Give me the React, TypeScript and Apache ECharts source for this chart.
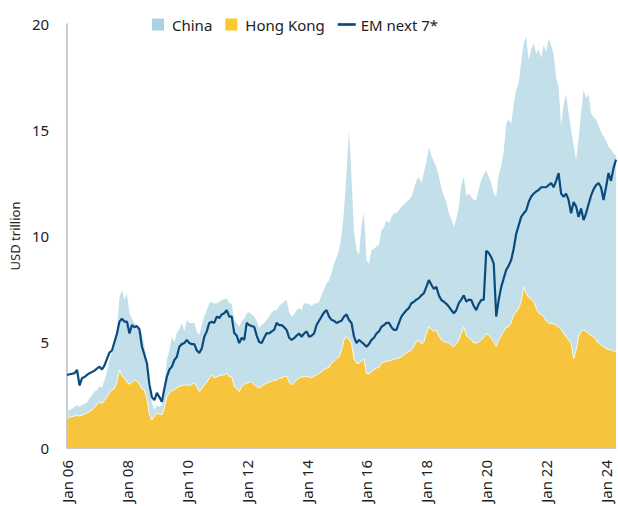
import React, { useEffect, useRef } from "react";
import * as echarts from "echarts";

const monthNames = ["Jan", "Feb", "Mar", "Apr", "May", "Jun", "Jul", "Aug", "Sep", "Oct", "Nov", "Dec"];
const yearLabels = ["06", "07", "08", "09", "10", "11", "12", "13", "14", "15", "16", "17", "18", "19", "20", "21", "22", "23", "24"];
const lastMonthCount = 5; // Jan-May 2024

const categories: string[] = [];
yearLabels.forEach((y, yi) => {
  const n = yi === yearLabels.length - 1 ? lastMonthCount : 12;
  for (let m = 0; m < n; m++) categories.push(`${monthNames[m]} ${y}`);
});

// Hong Kong market cap, USD trillion (monthly)
const hongKong = [
  1.40, 1.45, 1.48, 1.50, 1.55, 1.50, 1.55, 1.60, 1.65, 1.72, 1.80, 1.90,
  2.05, 2.18, 2.10, 2.25, 2.40, 2.60, 2.74, 2.80, 3.10, 3.68, 3.40, 3.30,
  3.10, 3.00, 3.10, 3.20, 3.15, 3.00, 2.80, 2.74, 2.30, 1.60, 1.32, 1.50,
  1.64, 1.60, 1.56, 1.90, 2.42, 2.60, 2.70, 2.75, 2.83, 2.90, 2.95, 2.97,
  2.97, 2.95, 3.00, 3.06, 2.90, 2.66, 2.80, 2.97, 3.10, 3.30, 3.44, 3.30,
  3.36, 3.40, 3.44, 3.44, 3.53, 3.36, 3.36, 2.90, 2.80, 2.66, 2.90, 3.00,
  3.06, 3.10, 3.13, 2.97, 2.90, 2.83, 2.90, 3.00, 3.06, 3.10, 3.15, 3.20,
  3.20, 3.30, 3.30, 3.36, 3.40, 3.10, 2.97, 3.10, 3.20, 3.30, 3.36, 3.36,
  3.36, 3.36, 3.30, 3.40, 3.45, 3.52, 3.60, 3.70, 3.77, 3.80, 4.00, 4.10,
  4.20, 4.30, 4.60, 5.10, 5.25, 5.10, 4.95, 4.20, 4.00, 4.00, 4.10, 4.20,
  3.52, 3.50, 3.60, 3.70, 3.77, 3.80, 4.00, 4.05, 4.10, 4.10, 4.15, 4.20,
  4.20, 4.25, 4.30, 4.40, 4.50, 4.55, 4.62, 4.80, 5.00, 5.10, 4.90, 5.00,
  5.40, 5.72, 5.60, 5.50, 5.57, 5.30, 5.10, 5.00, 5.00, 4.95, 4.85, 4.78,
  4.90, 5.10, 5.40, 5.72, 5.30, 5.20, 5.10, 4.95, 4.95, 5.00, 5.10, 5.20,
  5.40, 5.30, 5.20, 5.00, 4.80, 5.10, 5.30, 5.50, 5.70, 5.72, 5.90, 6.30,
  6.40, 6.60, 6.90, 7.60, 7.30, 7.10, 7.00, 6.90, 6.60, 6.36, 6.30, 6.20,
  6.00, 5.90, 5.88, 5.85, 5.80, 5.70, 5.60, 5.40, 5.25, 5.10, 4.94, 4.20,
  4.60, 5.25, 5.50, 5.57, 5.50, 5.40, 5.30, 5.25, 5.10, 4.94, 4.85, 4.78,
  4.70, 4.65, 4.62, 4.58, 4.55,
];

// China market cap, USD trillion (monthly, stacked on top of Hong Kong)
const china = [
  0.31, 0.35, 0.37, 0.45, 0.48, 0.45, 0.48, 0.48, 0.50, 0.63, 0.70, 0.75,
  0.69, 0.72, 0.75, 0.95, 1.20, 1.55, 1.76, 2.00, 2.50, 3.42, 4.05, 3.70,
  4.20, 3.36, 3.00, 2.70, 2.65, 2.60, 2.60, 2.06, 1.85, 1.30, 0.78, 0.30,
  0.36, 0.35, 0.44, 1.10, 1.73, 2.00, 2.55, 2.25, 2.59, 2.70, 2.95, 2.53,
  3.07, 2.95, 2.90, 2.84, 2.60, 2.67, 3.00, 3.23, 3.40, 3.53, 3.46, 3.50,
  3.47, 3.50, 3.54, 3.56, 3.54, 3.47, 3.44, 3.14, 3.10, 3.06, 3.10, 3.10,
  3.30, 3.30, 3.17, 3.23, 3.10, 2.83, 2.90, 2.90, 2.98, 3.10, 3.25, 3.30,
  3.30, 3.40, 3.50, 3.54, 3.58, 3.30, 3.23, 3.20, 3.30, 3.30, 3.14, 3.47,
  3.44, 3.44, 3.40, 3.40, 3.38, 3.38, 3.60, 3.80, 4.00, 4.10, 4.25, 4.60,
  4.80, 5.04, 5.40, 6.10, 7.75, 9.90, 7.85, 6.00, 5.34, 5.10, 6.40, 6.87,
  5.35, 5.20, 5.74, 5.70, 5.73, 5.80, 6.28, 6.35, 6.65, 6.50, 6.75, 6.87,
  6.87, 6.95, 7.08, 7.10, 7.10, 7.15, 7.23, 7.40, 7.60, 7.70, 7.60, 7.97,
  8.10, 8.48, 8.20, 8.00, 7.70, 7.50, 7.20, 6.90, 6.60, 6.12, 5.95, 5.66,
  5.90, 6.28, 7.00, 7.08, 6.60, 6.80, 6.75, 6.75, 6.75, 7.20, 7.54, 7.70,
  7.70, 7.50, 7.30, 7.00, 7.05, 7.80, 8.00, 8.50, 9.60, 9.78, 9.40, 9.90,
  10.50, 10.60, 11.30, 11.50, 12.10, 11.20, 11.80, 12.20, 12.00, 12.44, 12.10, 12.80,
  12.70, 13.40, 13.12, 12.75, 11.70, 11.30, 9.60, 10.80, 11.45, 10.70, 10.06, 10.10,
  9.00, 9.35, 10.30, 11.33, 11.00, 11.30, 10.50, 10.35, 10.40, 10.26, 10.05, 9.92,
  9.80, 9.55, 9.48, 9.32, 9.25,
];

// EM next 7*, USD trillion (monthly)
const emNext7 = [
  3.44, 3.48, 3.50, 3.53, 3.68, 2.95, 3.30, 3.35, 3.45, 3.53, 3.58, 3.65,
  3.75, 3.84, 3.70, 3.90, 4.20, 4.50, 4.60, 5.00, 5.40, 5.96, 6.10, 5.96,
  5.96, 5.40, 5.80, 5.70, 5.75, 5.60, 4.78, 4.40, 4.00, 3.00, 2.40, 2.26,
  2.60, 2.40, 2.18, 2.80, 3.36, 3.70, 3.84, 4.15, 4.30, 4.78, 4.90, 4.95,
  5.10, 4.95, 4.90, 4.90, 4.60, 4.48, 4.70, 5.25, 5.50, 5.90, 5.96, 5.90,
  6.20, 6.13, 6.30, 6.36, 6.50, 6.20, 6.20, 5.42, 5.30, 4.95, 5.20, 5.10,
  5.90, 5.80, 5.75, 5.72, 5.30, 5.00, 4.95, 5.20, 5.42, 5.40, 5.50, 5.57,
  5.90, 5.80, 5.80, 5.70, 5.57, 5.20, 5.10, 5.18, 5.30, 5.40, 5.25, 5.40,
  5.50, 5.25, 5.30, 5.40, 5.80, 6.00, 6.20, 6.40, 6.50, 6.20, 6.04, 6.00,
  5.90, 5.95, 6.00, 6.20, 6.30, 6.04, 5.90, 5.25, 4.95, 5.10, 5.00, 4.90,
  4.78, 4.90, 5.10, 5.20, 5.40, 5.50, 5.72, 5.80, 5.90, 5.90, 5.70, 5.57,
  5.57, 5.90, 6.20, 6.36, 6.50, 6.60, 6.83, 6.90, 7.00, 7.07, 7.20, 7.30,
  7.60, 7.92, 7.70, 7.50, 7.60, 7.20, 6.98, 6.90, 6.80, 6.67, 6.50, 6.36,
  6.50, 6.83, 7.00, 7.20, 6.90, 7.00, 6.98, 6.70, 6.50, 6.80, 6.98, 7.00,
  9.30, 9.20, 9.00, 8.70, 6.20, 7.00, 7.60, 8.00, 8.40, 8.60, 8.87, 9.40,
  10.10, 10.50, 10.90, 11.07, 11.20, 11.60, 11.85, 12.00, 12.10, 12.17, 12.30, 12.30,
  12.30, 12.40, 12.50, 12.30, 12.60, 12.97, 12.00, 11.85, 12.00, 11.70, 11.07, 11.60,
  11.40, 10.90, 11.30, 10.75, 11.07, 11.50, 11.90, 12.20, 12.40, 12.50, 12.30, 11.70,
  12.30, 12.97, 12.60, 13.20, 13.60,
];

const yTicks = [0, 5, 10, 15, 20];

const FONT = "'Noto Sans', 'Open Sans', sans-serif";

export default function App() {
  const ref = useRef<HTMLDivElement>(null);

  useEffect(() => {
    if (!ref.current) return;
    const chart = echarts.init(ref.current, null, { renderer: "svg" });
    chart.setOption({
      animation: false,
      backgroundColor: "#ffffff",
      textStyle: { fontFamily: FONT },
      legend: {
        top: 12,
        left: 147,
        itemWidth: 18,
        itemHeight: 12,
        itemGap: 13,
        textStyle: { fontFamily: FONT, fontSize: 15, color: "#222" },
        data: [
          { name: "China", icon: "path://M0,0H10V10H0Z" },
          { name: "Hong Kong", icon: "path://M0,0H10V10H0Z" },
          { name: "EM next 7*", icon: "path://M0,0H20V3H0Z" },
        ],
      },
      grid: { left: 57, right: 2, top: 24, bottom: 58, containLabel: false },
      xAxis: {
        type: "category",
        data: categories,
        boundaryGap: false,
        axisLine: { show: true, lineStyle: { color: "#b4bcc4", width: 1.5 } },
        axisTick: { show: false },
        axisLabel: {
          interval: (i: number) => i % 24 === 0,
          rotate: 90,
          margin: 12,
          fontFamily: FONT,
          fontSize: 15,
          color: "#222",
        },
        splitLine: { show: false },
      },
      yAxis: {
        type: "value",
        min: yTicks[0],
        max: yTicks[yTicks.length - 1],
        interval: 5,
        name: "USD trillion",
        nameLocation: "middle",
        nameGap: 42,
        nameRotate: 90,
        nameTextStyle: { fontFamily: FONT, fontSize: 13, color: "#222" },
        axisLine: { show: true, lineStyle: { color: "#b4bcc4", width: 1.5 } },
        axisTick: { show: false },
        axisLabel: { margin: 18, fontFamily: FONT, fontSize: 15, color: "#222" },
        splitLine: { show: false },
      },
      series: [
        {
          name: "Hong Kong",
          type: "line",
          stack: "mcap",
          data: hongKong,
          showSymbol: false,
          symbol: "none",
          lineStyle: { width: 0.8, color: "#ffffff" },
          itemStyle: { color: "#fcc72f" },
          areaStyle: { color: "#f6c43d", opacity: 1 },
          z: 2,
        },
        {
          name: "China",
          type: "line",
          stack: "mcap",
          data: china,
          showSymbol: false,
          symbol: "none",
          lineStyle: { width: 0 },
          itemStyle: { color: "#a8d3e2" },
          areaStyle: { color: "#c3e0ea", opacity: 1 },
          z: 1,
        },
        {
          name: "EM next 7*",
          type: "line",
          data: emNext7,
          showSymbol: false,
          symbol: "none",
          lineStyle: { width: 2.2, color: "#0b4a7e" },
          itemStyle: { color: "#0b4a7e" },
          z: 5,
        },
      ],
    });
    return () => chart.dispose();
  }, []);

  return (
    <div
      ref={ref}
      style={{ position: "absolute", left: 0, top: 0, width: 618, height: 506 }}
    />
  );
}
